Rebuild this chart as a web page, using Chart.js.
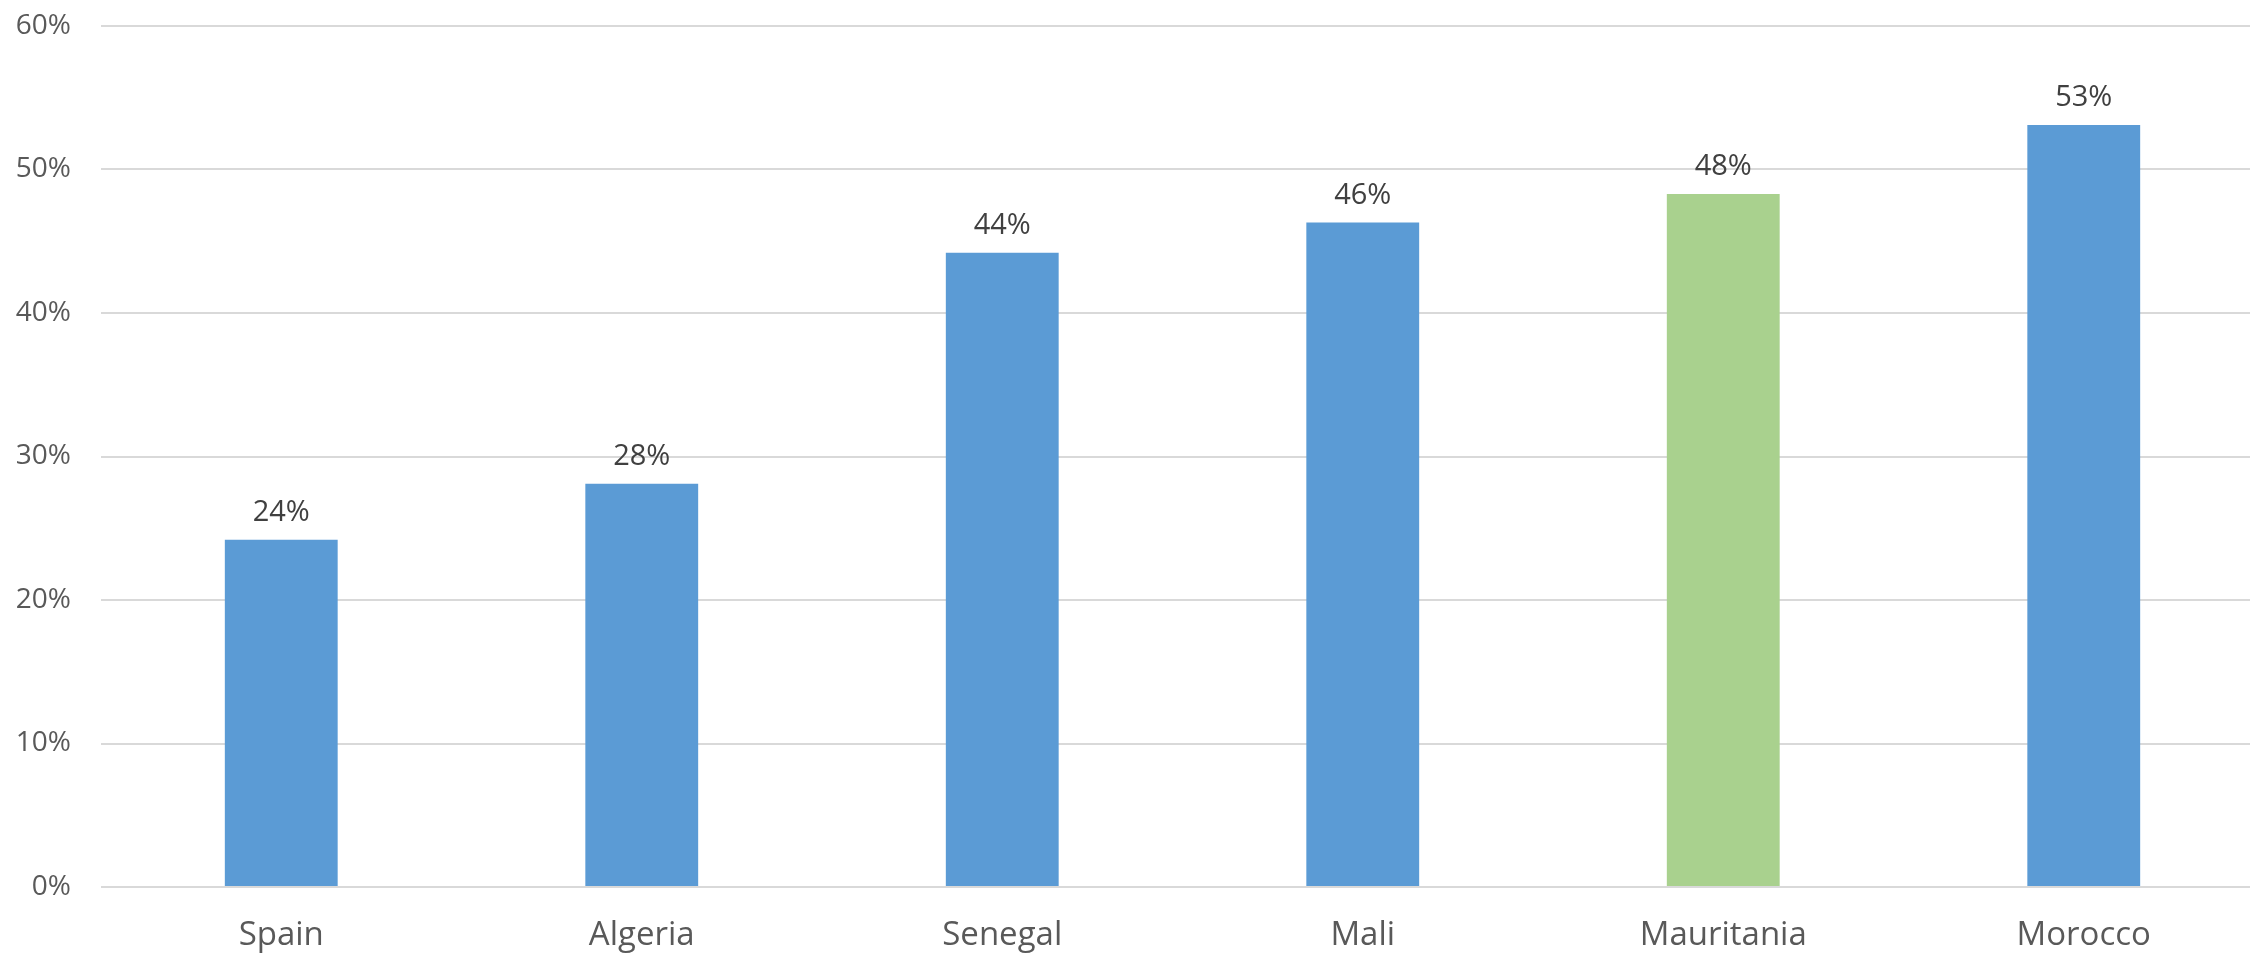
<!DOCTYPE html>
<html>
<head>
<meta charset="utf-8">
<script src="https://cdn.jsdelivr.net/npm/chart.js@4.4.1/dist/chart.umd.min.js"></script>
<style>
  html, body { margin: 0; padding: 0; background: #fff; overflow: hidden; }
  canvas { display: block; }
</style>
</head>
<body>
<canvas id="shareChart" width="2264" height="954"></canvas>
<script>
// Data
const countries = ["Spain", "Algeria", "Senegal", "Mali", "Mauritania", "Morocco"];
const shares = [24.2, 28.1, 44.2, 46.3, 48.3, 53.1];
const barColors = ["#5B9BD5", "#5B9BD5", "#5B9BD5", "#5B9BD5", "#A9D18E", "#5B9BD5"];
const yTicks = [0, 10, 20, 30, 40, 50, 60];

// value labels above each bar
const barLabels = {
  id: "barLabels",
  afterDatasetsDraw(chart) {
    const ctx = chart.ctx;
    const meta = chart.getDatasetMeta(0);
    ctx.save();
    ctx.font = "29px 'Open Sans'";
    ctx.fillStyle = "#404040";
    ctx.textAlign = "center";
    ctx.textBaseline = "alphabetic";
    meta.data.forEach((bar, i) => {
      ctx.fillText(Math.round(shares[i]) + "%", bar.x, bar.y - 19);
    });
    ctx.restore();
  },
};

const ctx = document.getElementById("shareChart").getContext("2d");
new Chart(ctx, {
  type: "bar",
  data: {
    labels: countries,
    datasets: [
      {
        data: shares,
        backgroundColor: barColors,
        barPercentage: 0.313,
        categoryPercentage: 1,
      },
    ],
  },
  options: {
    responsive: false,
    animation: false,
    devicePixelRatio: 1,
    layout: { padding: { top: 26, left: 0, right: 0, bottom: 0 } },
    plugins: {
      legend: { display: false },
      title: { display: false },
      tooltip: { enabled: false },
    },
    scales: {
      x: {
        grid: { display: false },
        border: { display: false },
        ticks: {
          color: "#595959",
          font: { family: "'Open Sans'", size: 33 },
          padding: 21,
          maxRotation: 0,
        },
        afterFit(scale) { scale.height = 67; },
      },
      y: {
        min: 0,
        max: 60,
        border: { display: false },
        grid: { color: "#D9D9D9", lineWidth: 2, drawTicks: false },
        afterBuildTicks(scale) {
          scale.ticks = yTicks.map((v) => ({ value: v }));
        },
        ticks: {
          color: "#595959",
          font: { family: "'Open Sans'", size: 28 },
          padding: 30,
          callback: (v) => v + "%",
        },
        afterFit(scale) {
          scale.width = 101;
          scale.paddingTop = 0;
          scale.paddingBottom = 0;
        },
      },
    },
  },
  plugins: [barLabels],
});
</script>
</body>
</html>
